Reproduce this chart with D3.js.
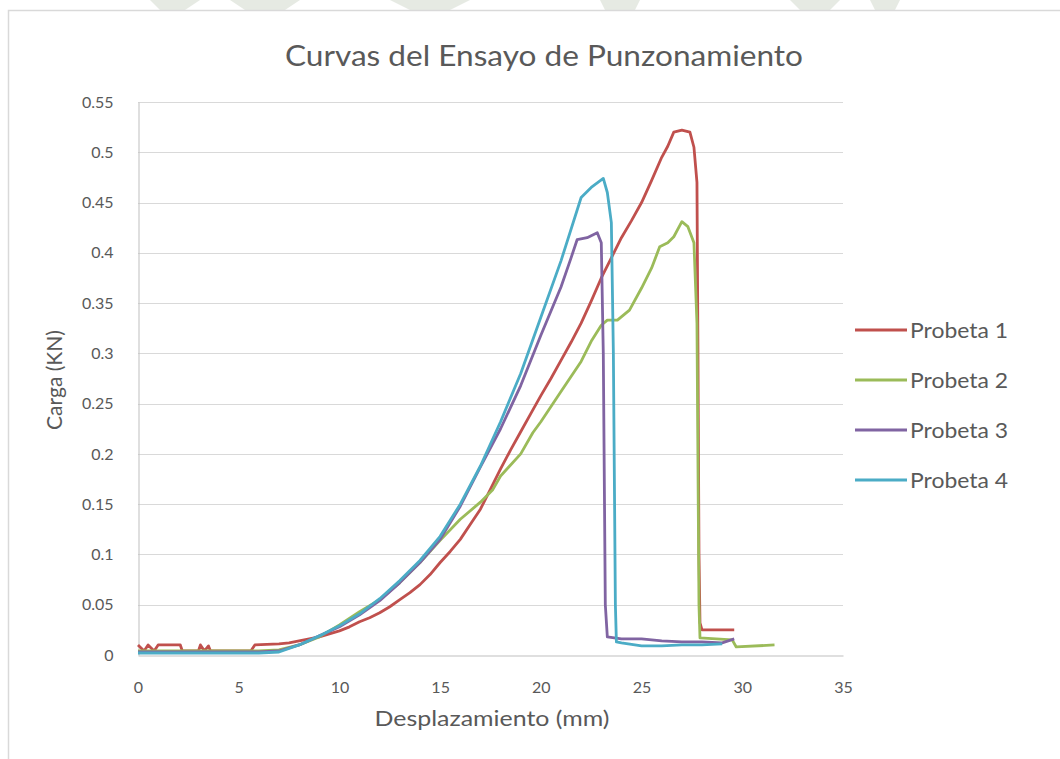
<!DOCTYPE html>
<html>
<head>
<meta charset="utf-8">
<script src="https://cdn.jsdelivr.net/npm/d3@7"></script>
<style>
  html, body { margin: 0; padding: 0; background: #ffffff; }
  svg { display: block; }
  text { font-family: Lato, "Open Sans", sans-serif; fill: #595959; }
</style>
</head>
<body>
<svg id="chart" width="1060" height="759"></svg>
<script>
// Desplazamiento (mm) and carga (kN) readings for each probeta
const p1X = [0, 0.3, 0.5, 0.8, 1.0, 2.1, 2.2, 3.0, 3.1, 3.3, 3.5, 3.6, 5.6, 5.8, 7.0, 7.5, 8.0, 8.5, 9.0, 9.5, 10, 10.5, 11, 11.5, 12, 12.5, 13, 13.5, 14, 14.5, 15, 15.5, 16, 16.5, 17, 17.5, 18, 18.5, 19, 19.5, 20, 20.5, 21, 21.5, 22, 22.5, 23, 23.5, 24, 24.5, 25, 25.5, 26, 26.3, 26.6, 27.0, 27.4, 27.6, 27.75, 27.8, 27.85, 27.9, 28.0, 29.6];
const p1Y = [0.010, 0.004, 0.010, 0.004, 0.010, 0.010, 0.004, 0.004, 0.010, 0.004, 0.009, 0.004, 0.004, 0.010, 0.011, 0.012, 0.014, 0.016, 0.018, 0.021, 0.024, 0.028, 0.033, 0.037, 0.042, 0.048, 0.055, 0.062, 0.070, 0.080, 0.092, 0.103, 0.115, 0.130, 0.145, 0.165, 0.185, 0.204, 0.222, 0.240, 0.258, 0.275, 0.293, 0.311, 0.330, 0.352, 0.375, 0.395, 0.415, 0.432, 0.450, 0.472, 0.495, 0.506, 0.520, 0.522, 0.520, 0.505, 0.470, 0.300, 0.100, 0.032, 0.025, 0.025];

const p2X = [0, 3, 6, 7, 8, 9, 10, 11, 12, 13, 14, 15, 16, 17, 17.6, 18, 19, 19.6, 20, 21, 22, 22.5, 23, 23.3, 23.8, 24.4, 25, 25.5, 25.9, 26.3, 26.6, 27.0, 27.3, 27.6, 27.75, 27.85, 27.9, 29.5, 29.7, 31.6];
const p2Y = [0.004, 0.004, 0.004, 0.005, 0.010, 0.018, 0.030, 0.043, 0.055, 0.072, 0.092, 0.114, 0.135, 0.152, 0.164, 0.178, 0.200, 0.221, 0.232, 0.262, 0.292, 0.312, 0.328, 0.333, 0.333, 0.343, 0.365, 0.385, 0.406, 0.410, 0.416, 0.431, 0.426, 0.410, 0.330, 0.050, 0.017, 0.015, 0.008, 0.010];

const p3X = [0, 3, 6, 7, 8, 9, 10, 11, 12, 13, 14, 15, 16, 17, 18, 19, 20, 21, 21.5, 21.8, 22.3, 22.8, 23.0, 23.1, 23.2, 23.3, 24, 25, 26, 27, 28, 29, 29.6];
const p3Y = [0.003, 0.003, 0.003, 0.004, 0.010, 0.019, 0.028, 0.040, 0.054, 0.072, 0.092, 0.115, 0.148, 0.187, 0.225, 0.268, 0.318, 0.366, 0.395, 0.413, 0.415, 0.420, 0.410, 0.300, 0.050, 0.018, 0.016, 0.016, 0.014, 0.013, 0.013, 0.012, 0.016];

const p4X = [0, 3, 6, 7, 8, 9, 10, 11, 12, 13, 14, 15, 16, 17, 18, 19, 20, 21, 22, 22.5, 23.1, 23.3, 23.5, 23.6, 23.7, 23.75, 24, 25, 26, 27, 28, 29];
const p4Y = [0.002, 0.002, 0.002, 0.003, 0.010, 0.019, 0.029, 0.041, 0.056, 0.074, 0.094, 0.118, 0.150, 0.188, 0.232, 0.280, 0.336, 0.392, 0.455, 0.465, 0.474, 0.460, 0.430, 0.300, 0.050, 0.013, 0.012, 0.009, 0.009, 0.010, 0.010, 0.011];

const seriesNames = ["Probeta 1", "Probeta 2", "Probeta 3", "Probeta 4"];
const seriesColors = ["#C0504D", "#9BBB59", "#8064A2", "#4BACC6"];
const xTicks = [0, 5, 10, 15, 20, 25, 30, 35];
const yTicks = [0, 0.05, 0.1, 0.15, 0.2, 0.25, 0.3, 0.35, 0.4, 0.45, 0.5, 0.55];

const chartTitle = "Curvas del Ensayo de Punzonamiento";
const xTitle = "Desplazamiento (mm)";
const yTitle = "Carga (KN)";

const series = [[p1X, p1Y], [p2X, p2Y], [p3X, p3Y], [p4X, p4Y]].map((s, i) => ({
  name: seriesNames[i],
  color: seriesColors[i],
  points: s[0].map((x, j) => [x, s[1][j]])
}));

const svg = d3.select("#chart");

// pale logo fragments showing above the chart frame
const wm = svg.append("g").attr("fill", "#E6EAE3");
wm.append("path").attr("d", "M150,0 L200,0 L185,10 L160,10 Z");
wm.append("path").attr("d", "M230,0 L300,0 L285,10 L245,10 Z");
wm.append("path").attr("d", "M390,0 L470,0 L450,10 L410,10 Z");
wm.append("path").attr("d", "M600,0 L640,0 L635,10 L605,10 Z");
wm.append("path").attr("d", "M790,0 L840,0 L830,10 L800,10 Z");
wm.append("path").attr("d", "M870,0 L900,0 L895,10 L875,10 Z");

// chart frame
svg.append("rect")
  .attr("x", 8.5).attr("y", 10.5)
  .attr("width", 1070).attr("height", 760)
  .attr("fill", "#ffffff")
  .attr("stroke", "#D9D9D9").attr("stroke-width", 1.5);

const x = d3.scaleLinear().domain([0, 35]).range([138, 843]);
const y = d3.scaleLinear().domain([0, 0.55]).range([655, 102]);

// horizontal gridlines
svg.append("g")
  .selectAll("line")
  .data(yTicks.filter(d => d > 0))
  .join("line")
  .attr("x1", x(0)).attr("x2", x(35))
  .attr("y1", d => Math.round(y(d)) + 0.5).attr("y2", d => Math.round(y(d)) + 0.5)
  .attr("stroke", "#D9D9D9").attr("stroke-width", 1);

// axes
const xAxis = svg.append("g")
  .attr("transform", `translate(0,${Math.round(y(0)) + 0.5})`)
  .call(d3.axisBottom(x).tickValues(xTicks).tickSize(0).tickPadding(26).tickFormat(d3.format("d")));
const yAxis = svg.append("g")
  .attr("transform", `translate(${Math.round(x(0)) + 0.5},0)`)
  .call(d3.axisLeft(y).tickValues(yTicks).tickSize(0).tickPadding(25).tickFormat(d => d === 0 ? "0" : String(+d.toFixed(2))));

[xAxis, yAxis].forEach(a => {
  a.select(".domain").attr("stroke", "#BFBFBF").attr("stroke-width", 1);
  a.selectAll("text").attr("font-size", 16).attr("fill", "#595959")
    .style("font-family", 'Lato, "Open Sans", sans-serif');
});

// series lines
const line = d3.line().x(d => x(d[0])).y(d => y(d[1]));
svg.append("g")
  .selectAll("path")
  .data(series)
  .join("path")
  .attr("d", d => line(d.points))
  .attr("fill", "none")
  .attr("stroke", d => d.color)
  .attr("stroke-width", 2.8)
  .attr("stroke-linejoin", "round");

// titles
svg.append("text")
  .attr("x", 544).attr("y", 66)
  .attr("text-anchor", "middle")
  .attr("font-size", 29)
  .attr("textLength", 518).attr("lengthAdjust", "spacingAndGlyphs")
  .text(chartTitle);

svg.append("text")
  .attr("x", 492).attr("y", 726)
  .attr("text-anchor", "middle")
  .attr("font-size", 21)
  .attr("textLength", 235).attr("lengthAdjust", "spacingAndGlyphs")
  .text(xTitle);

svg.append("text")
  .attr("transform", "translate(62,380) rotate(-90)")
  .attr("text-anchor", "middle")
  .attr("font-size", 21)
  .attr("textLength", 100).attr("lengthAdjust", "spacingAndGlyphs")
  .text(yTitle);

// legend
const legend = svg.append("g")
  .selectAll("g")
  .data(series)
  .join("g")
  .attr("transform", (d, i) => `translate(855,${330 + i * 50})`);
legend.append("line")
  .attr("x1", 0).attr("x2", 52).attr("y1", 0).attr("y2", 0)
  .attr("stroke", d => d.color).attr("stroke-width", 2.8);
legend.append("text")
  .attr("x", 55).attr("y", 0).attr("dy", "0.36em")
  .attr("font-size", 21)
  .attr("fill", "#404040")
  .attr("textLength", 98).attr("lengthAdjust", "spacingAndGlyphs")
  .text(d => d.name);
</script>
</body>
</html>
